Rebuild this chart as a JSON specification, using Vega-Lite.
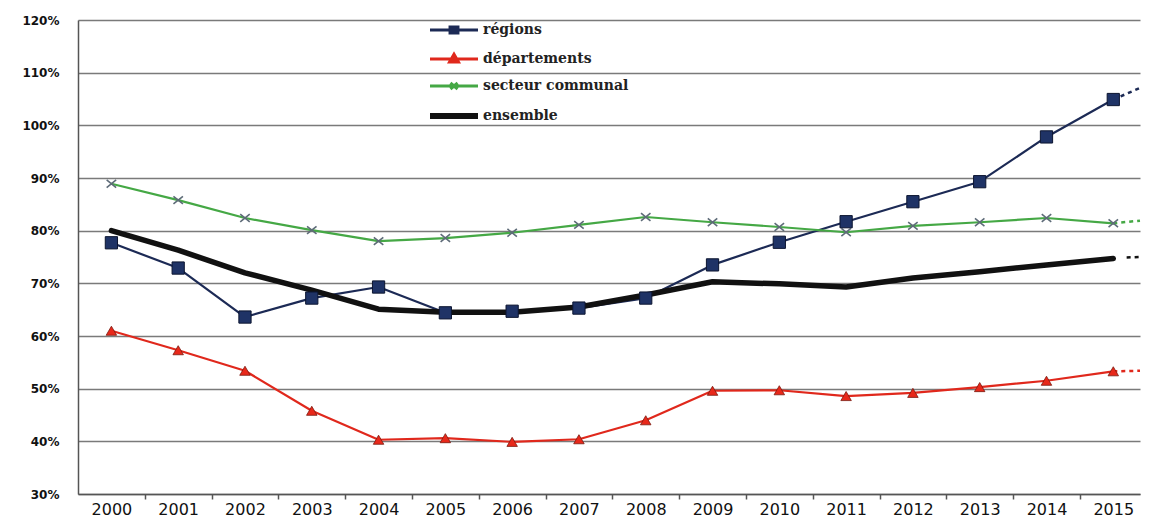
{
  "$schema": "https://vega.github.io/schema/vega-lite/v6.json",
  "autosize": {"type": "none"},
  "padding": {"left": 78, "top": 20, "right": 9, "bottom": 23},
  "width": 1062,
  "height": 474,
  "background": "white",
  "config": {"view": {"stroke": null}},
  "datasets": {
    "main": [
      {"series": "régions", "year": 2000, "value": 77.7},
      {"series": "régions", "year": 2001, "value": 72.9},
      {"series": "régions", "year": 2002, "value": 63.6},
      {"series": "régions", "year": 2003, "value": 67.2},
      {"series": "régions", "year": 2004, "value": 69.3},
      {"series": "régions", "year": 2005, "value": 64.4},
      {"series": "régions", "year": 2006, "value": 64.7},
      {"series": "régions", "year": 2007, "value": 65.3},
      {"series": "régions", "year": 2008, "value": 67.2},
      {"series": "régions", "year": 2009, "value": 73.5},
      {"series": "régions", "year": 2010, "value": 77.8},
      {"series": "régions", "year": 2011, "value": 81.7},
      {"series": "régions", "year": 2012, "value": 85.5},
      {"series": "régions", "year": 2013, "value": 89.3},
      {"series": "régions", "year": 2014, "value": 97.8},
      {"series": "régions", "year": 2015, "value": 104.9},
      {"series": "départements", "year": 2000, "value": 61.0},
      {"series": "départements", "year": 2001, "value": 57.3},
      {"series": "départements", "year": 2002, "value": 53.4},
      {"series": "départements", "year": 2003, "value": 45.8},
      {"series": "départements", "year": 2004, "value": 40.3},
      {"series": "départements", "year": 2005, "value": 40.6},
      {"series": "départements", "year": 2006, "value": 39.9},
      {"series": "départements", "year": 2007, "value": 40.4},
      {"series": "départements", "year": 2008, "value": 44.0},
      {"series": "départements", "year": 2009, "value": 49.6},
      {"series": "départements", "year": 2010, "value": 49.7},
      {"series": "départements", "year": 2011, "value": 48.6},
      {"series": "départements", "year": 2012, "value": 49.2},
      {"series": "départements", "year": 2013, "value": 50.3},
      {"series": "départements", "year": 2014, "value": 51.5},
      {"series": "départements", "year": 2015, "value": 53.3},
      {"series": "secteur communal", "year": 2000, "value": 88.9},
      {"series": "secteur communal", "year": 2001, "value": 85.8},
      {"series": "secteur communal", "year": 2002, "value": 82.4},
      {"series": "secteur communal", "year": 2003, "value": 80.1},
      {"series": "secteur communal", "year": 2004, "value": 78.0},
      {"series": "secteur communal", "year": 2005, "value": 78.6},
      {"series": "secteur communal", "year": 2006, "value": 79.6},
      {"series": "secteur communal", "year": 2007, "value": 81.1},
      {"series": "secteur communal", "year": 2008, "value": 82.6},
      {"series": "secteur communal", "year": 2009, "value": 81.6},
      {"series": "secteur communal", "year": 2010, "value": 80.7},
      {"series": "secteur communal", "year": 2011, "value": 79.7},
      {"series": "secteur communal", "year": 2012, "value": 80.9},
      {"series": "secteur communal", "year": 2013, "value": 81.6},
      {"series": "secteur communal", "year": 2014, "value": 82.4},
      {"series": "secteur communal", "year": 2015, "value": 81.4},
      {"series": "ensemble", "year": 2000, "value": 80.0},
      {"series": "ensemble", "year": 2001, "value": 76.3},
      {"series": "ensemble", "year": 2002, "value": 72.0},
      {"series": "ensemble", "year": 2003, "value": 68.7},
      {"series": "ensemble", "year": 2004, "value": 65.1},
      {"series": "ensemble", "year": 2005, "value": 64.5},
      {"series": "ensemble", "year": 2006, "value": 64.5},
      {"series": "ensemble", "year": 2007, "value": 65.5},
      {"series": "ensemble", "year": 2008, "value": 67.8},
      {"series": "ensemble", "year": 2009, "value": 70.3},
      {"series": "ensemble", "year": 2010, "value": 69.9},
      {"series": "ensemble", "year": 2011, "value": 69.3},
      {"series": "ensemble", "year": 2012, "value": 71.0},
      {"series": "ensemble", "year": 2013, "value": 72.2},
      {"series": "ensemble", "year": 2014, "value": 73.5},
      {"series": "ensemble", "year": 2015, "value": 74.7}
    ],
    "ext": [
      {"series": "régions", "year": 2015, "value": 104.9},
      {"series": "régions", "year": 2015.4, "value": 107.1},
      {"series": "départements", "year": 2015, "value": 53.3},
      {"series": "départements", "year": 2015.4, "value": 53.4},
      {"series": "secteur communal", "year": 2015, "value": 81.4},
      {"series": "secteur communal", "year": 2015.4, "value": 81.9},
      {"series": "ensemble", "year": 2015.2, "value": 74.9},
      {"series": "ensemble", "year": 2015.4, "value": 75.0}
    ]
  },
  "layer": [
    {
      "data": {"name": "main"},
      "mark": {"type": "line", "strokeCap": "round", "strokeJoin": "round"},
      "encoding": {
        "x": {
          "field": "year", "type": "quantitative",
          "scale": {"domain": [1999.5, 2015.4], "nice": false, "zero": false},
          "axis": {
            "orient": "bottom", "title": null, "grid": false, "ticks": true,
            "tickOffset": 33.4, "labelOffset": -33.4, "tickSize": 5, "tickColor": "#555", "tickWidth": 1.5,
            "tickOpacity": {"condition": {"test": "datum.value > 2014", "value": 0}, "value": 1},
            "values": [1999, 2000, 2001, 2002, 2003, 2004, 2005, 2006, 2007, 2008, 2009, 2010, 2011, 2012, 2013, 2014, 2015],
            "labelExpr": "datum.value < 2000 ? '' : datum.label",
            "format": "d", "labelFont": "DejaVu Sans", "labelFontSize": 16, "labelColor": "#111",
            "labelPadding": 2, "domainColor": "#555", "domainWidth": 1.5, "labelFlush": false, "labelOverlap": false
          }
        },
        "y": {
          "field": "value", "type": "quantitative",
          "scale": {"domain": [30, 120], "nice": false, "zero": false},
          "axis": {
            "title": null, "values": [30, 40, 50, 60, 70, 80, 90, 100, 110, 120],
            "labelExpr": "datum.value + '%'", "ticks": false,
            "labelFont": "DejaVu Sans", "labelFontWeight": "bold", "labelFontSize": 12, "labelColor": "#111",
            "labelPadding": 19, "gridColor": "#7a7a7a", "gridWidth": 1.3, "domainColor": "#555", "domainWidth": 1.5
          }
        },
        "color": {
          "field": "series", "type": "nominal",
          "scale": {
            "domain": ["régions", "départements", "secteur communal", "ensemble"],
            "range": ["#1c2a55", "#e0281c", "#45a845", "#111111"]
          },
          "legend": {
            "orient": "none", "legendX": 357, "legendY": 3, "title": null, "padding": 0,
            "symbolType": "stroke", "symbolSize": 576, "rowPadding": 9,
            "labelFont": "DejaVu Serif", "labelFontWeight": "bold", "labelFontSize": 14, "labelColor": "#222",
            "labelOffset": 34,
            "encode": {
              "symbols": {
                "update": {
                  "shape": {"signal": "datum.value === 'régions' ? 'M-1,0L3,0M0.67,-0.25L1.33,-0.25L1.33,0.25L0.67,0.25Z' : datum.value === 'départements' ? 'M-1,0L3,0M1,-0.4L1.37,0.25L0.63,0.25Z' : datum.value === 'secteur communal' ? 'M-1,0L3,0M0.7,-0.25L1.3,0.25M1.3,-0.25L0.7,0.25' : 'M-1,0L3,0'"},
                  "strokeWidth": {"signal": "datum.value === 'ensemble' ? 6 : 3"},
                  "fill": {"signal": "datum.value === 'régions' ? '#1c2a55' : datum.value === 'départements' ? '#e0281c' : 'transparent'"}
                }
              }
            }
          }
        },
        "strokeWidth": {
          "condition": {"test": "datum.series === 'ensemble'", "value": 5.5},
          "value": 2.2
        },
        "order": {"field": "year"}
      }
    },
    {
      "data": {"name": "ext"},
      "mark": {"type": "line", "strokeDash": [4, 4], "strokeWidth": 2.5},
      "encoding": {
        "x": {"field": "year", "type": "quantitative"},
        "y": {"field": "value", "type": "quantitative"},
        "color": {"field": "series", "type": "nominal", "legend": null},
        "detail": {"field": "series"}
      }
    },
    {
      "data": {"name": "main"},
      "transform": [{"filter": "datum.series === 'secteur communal'"}],
      "mark": {"type": "point", "shape": "M-1,-0.8L1,0.8M1,-0.8L-1,0.8", "filled": false, "stroke": "#5e6b78", "strokeWidth": 1.6, "size": 90, "opacity": 1},
      "encoding": {
        "x": {"field": "year", "type": "quantitative"},
        "y": {"field": "value", "type": "quantitative"}
      }
    },
    {
      "data": {"name": "main"},
      "transform": [{"filter": "datum.series === 'départements'"}],
      "mark": {"type": "point", "shape": "triangle-up", "filled": true, "fill": "#e8281a", "stroke": "#7a1a10", "strokeWidth": 0.8, "size": 110, "opacity": 1},
      "encoding": {
        "x": {"field": "year", "type": "quantitative"},
        "y": {"field": "value", "type": "quantitative"}
      }
    },
    {
      "data": {"name": "main"},
      "transform": [{"filter": "datum.series === 'régions'"}],
      "mark": {"type": "point", "shape": "square", "filled": true, "fill": "#1f3366", "stroke": "#0c1530", "strokeWidth": 1, "size": 150, "opacity": 1},
      "encoding": {
        "x": {"field": "year", "type": "quantitative"},
        "y": {"field": "value", "type": "quantitative"}
      }
    }
  ]
}
